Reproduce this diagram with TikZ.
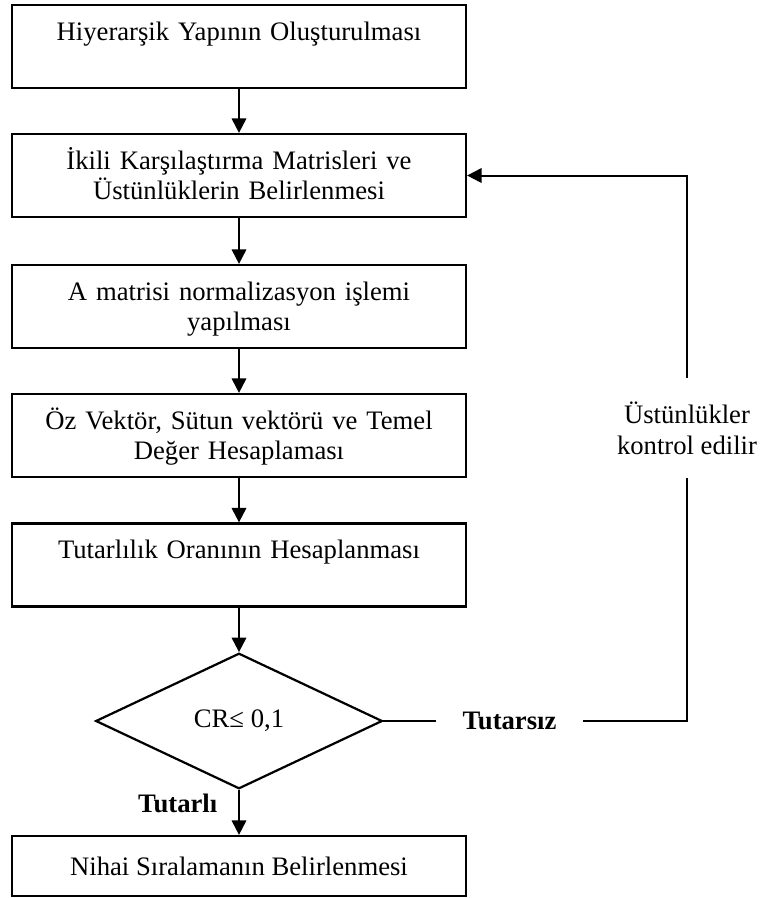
\documentclass[tikz,border=0pt]{standalone}
\usepackage{fontspec}
\setmainfont{Liberation Serif}
\usetikzlibrary{arrows.meta, shapes.geometric, positioning}

\newcommand{\flowfont}{\fontsize{12}{13.8}\selectfont}

\tikzset{
  stepbox/.style={draw, line width=1pt, inner xsep=0pt, inner ysep=0pt,
    text width=204.3pt, align=center, text height=15.75pt, text depth=21.6pt,
    font=\flowfont},
  decision/.style={diamond, draw, line width=1pt, minimum width=129pt,
    minimum height=61pt, inner sep=0pt, font=\flowfont},
  tag/.style={font=\flowfont\bfseries},
  flow/.style={line width=0.9pt, -{Triangle[length=6.5pt,width=6.5pt]}},
  plain/.style={line width=0.9pt}
}

\begin{document}
\begin{tikzpicture}[x=0.45pt,y=-0.45pt]
\useasboundingbox (0,0) rectangle (763,898);
\node[stepbox] (hiyer) at (239,46.5) {Hiyerarşik Yapının Oluşturulması};
\node[stepbox] (ikili) at (239,175.5) {İkili Karşılaştırma Matrisleri ve\\Üstünlüklerin Belirlenmesi};
\node[stepbox] (norm) at (239,306.5) {A matrisi normalizasyon işlemi\\yapılması};
\node[stepbox] (ozvek) at (239,435.5) {Öz Vektör, Sütun vektörü ve Temel\\Değer Hesaplaması};
\node[stepbox] (oran) at (239,565) {Tutarlılık Oranının Hesaplanması};
\node[decision] (cr) at (239,721) {CR≤ 0,1};
\node[draw, line width=1pt, minimum width=204.3pt, minimum height=27pt,
  font=\flowfont] (nihai) at (239,866) {Nihai Sıralamanın Belirlenmesi};
\node[tag, minimum width=66pt, inner sep=0pt] (tutarsiz) at (509.5,721) {Tutarsız};
\node[align=center, minimum height=45pt, inner sep=0pt, font=\flowfont] (kontrol) at (687,428) {Üstünlükler\\kontrol edilir};

\draw[flow] (hiyer) -- (ikili);
\draw[flow] (ikili) -- (norm);
\draw[flow] (norm) -- (ozvek);
\draw[flow] (ozvek) -- (oran);
\draw[flow] (oran) -- (cr);
\draw[flow] (cr) -- node[tag, left=6pt, pos=0.3] {Tutarlı} (nihai);
\draw[plain] (cr) -- (tutarsiz);
\draw[plain] (tutarsiz) -| (kontrol);
\draw[flow] (kontrol) |- (ikili);
\end{tikzpicture}
\end{document}
